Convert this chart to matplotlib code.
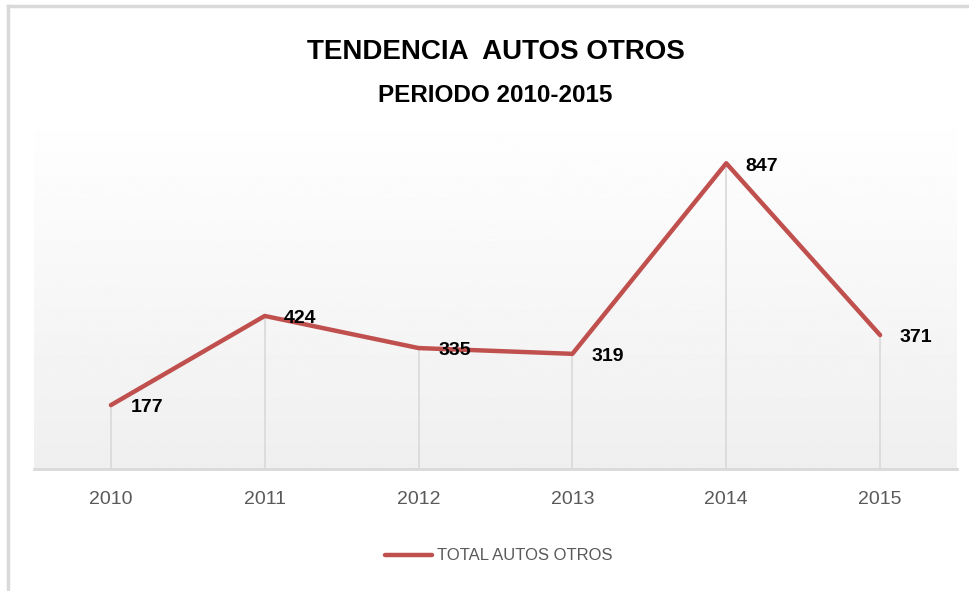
import matplotlib
matplotlib.use('Agg')
import matplotlib.pyplot as plt
import numpy as np
from matplotlib.lines import Line2D

years = ['2010', '2011', '2012', '2013', '2014', '2015']
totals = [177, 424, 335, 319, 847, 371]
series_name = 'TOTAL AUTOS OTROS'

plt.rcParams['font.family'] = ['Liberation Sans', 'DejaVu Sans']

red = '#C0504D'
grey_txt = '#595959'
grid_c = '#D9D9D9'

fig = plt.figure(figsize=(9.7, 5.91), dpi=100)
ax = fig.add_axes([34/970, 1 - 469/591, (957-34)/970, (469-108)/591])

x = np.arange(len(years))

# gradient background (white at top -> light grey at bottom)
grad = np.linspace(1.0, 0.937, 256).reshape(-1, 1)
ax.imshow(grad, cmap='gray', vmin=0, vmax=1, aspect='auto', origin='upper',
          extent=[-0.5, len(years) - 0.5, 0, 1000], zorder=0)
ax.set_xlim(-0.5, len(years) - 0.5)
ax.set_ylim(0, 1000)

# drop lines
ax.vlines(x, 0, totals, color=grid_c, lw=1.2, zorder=1)

line, = ax.plot(x, totals, color=red, lw=3.2, solid_capstyle='round',
                solid_joinstyle='round', zorder=3, label=series_name)

for xi, v in zip(x, totals):
    ax.annotate(str(v), (xi, v), xytext=(14, -2), textcoords='offset points',
                ha='left', va='center', fontsize=14, fontweight='bold',
                color='black', zorder=4)

for s in ['top', 'right', 'left']:
    ax.spines[s].set_visible(False)
ax.spines['bottom'].set_color(grid_c)
ax.spines['bottom'].set_linewidth(2)
ax.set_yticks([])
ax.set_xticks(x)
ax.set_xticklabels(years, fontsize=14, color=grey_txt)
ax.tick_params(axis='x', length=0, pad=16)

fig.text(0.511, 1 - 52/591, 'TENDENCIA  AUTOS OTROS', ha='center', va='center',
         fontsize=20, fontweight='bold')
fig.text(0.511, 1 - 95/591, 'PERIODO 2010-2015', ha='center', va='center',
         fontsize=17.5, fontweight='bold')

fig.legend(handles=[line], labels=[series_name], loc='center',
           bbox_to_anchor=(0.514, 1 - 556/591), frameon=False, fontsize=12,
           handlelength=2.8, handletextpad=0.3, labelcolor=grey_txt)

# chart border (left and top edges visible)
fig.add_artist(Line2D([8/970, 8/970], [0, 1 - 6/591], color=grid_c, lw=2.5,
                      transform=fig.transFigure))
fig.add_artist(Line2D([8/970, 1], [1 - 6/591, 1 - 6/591], color=grid_c, lw=2.5,
                      transform=fig.transFigure))

fig.savefig('out.png', dpi=100)
